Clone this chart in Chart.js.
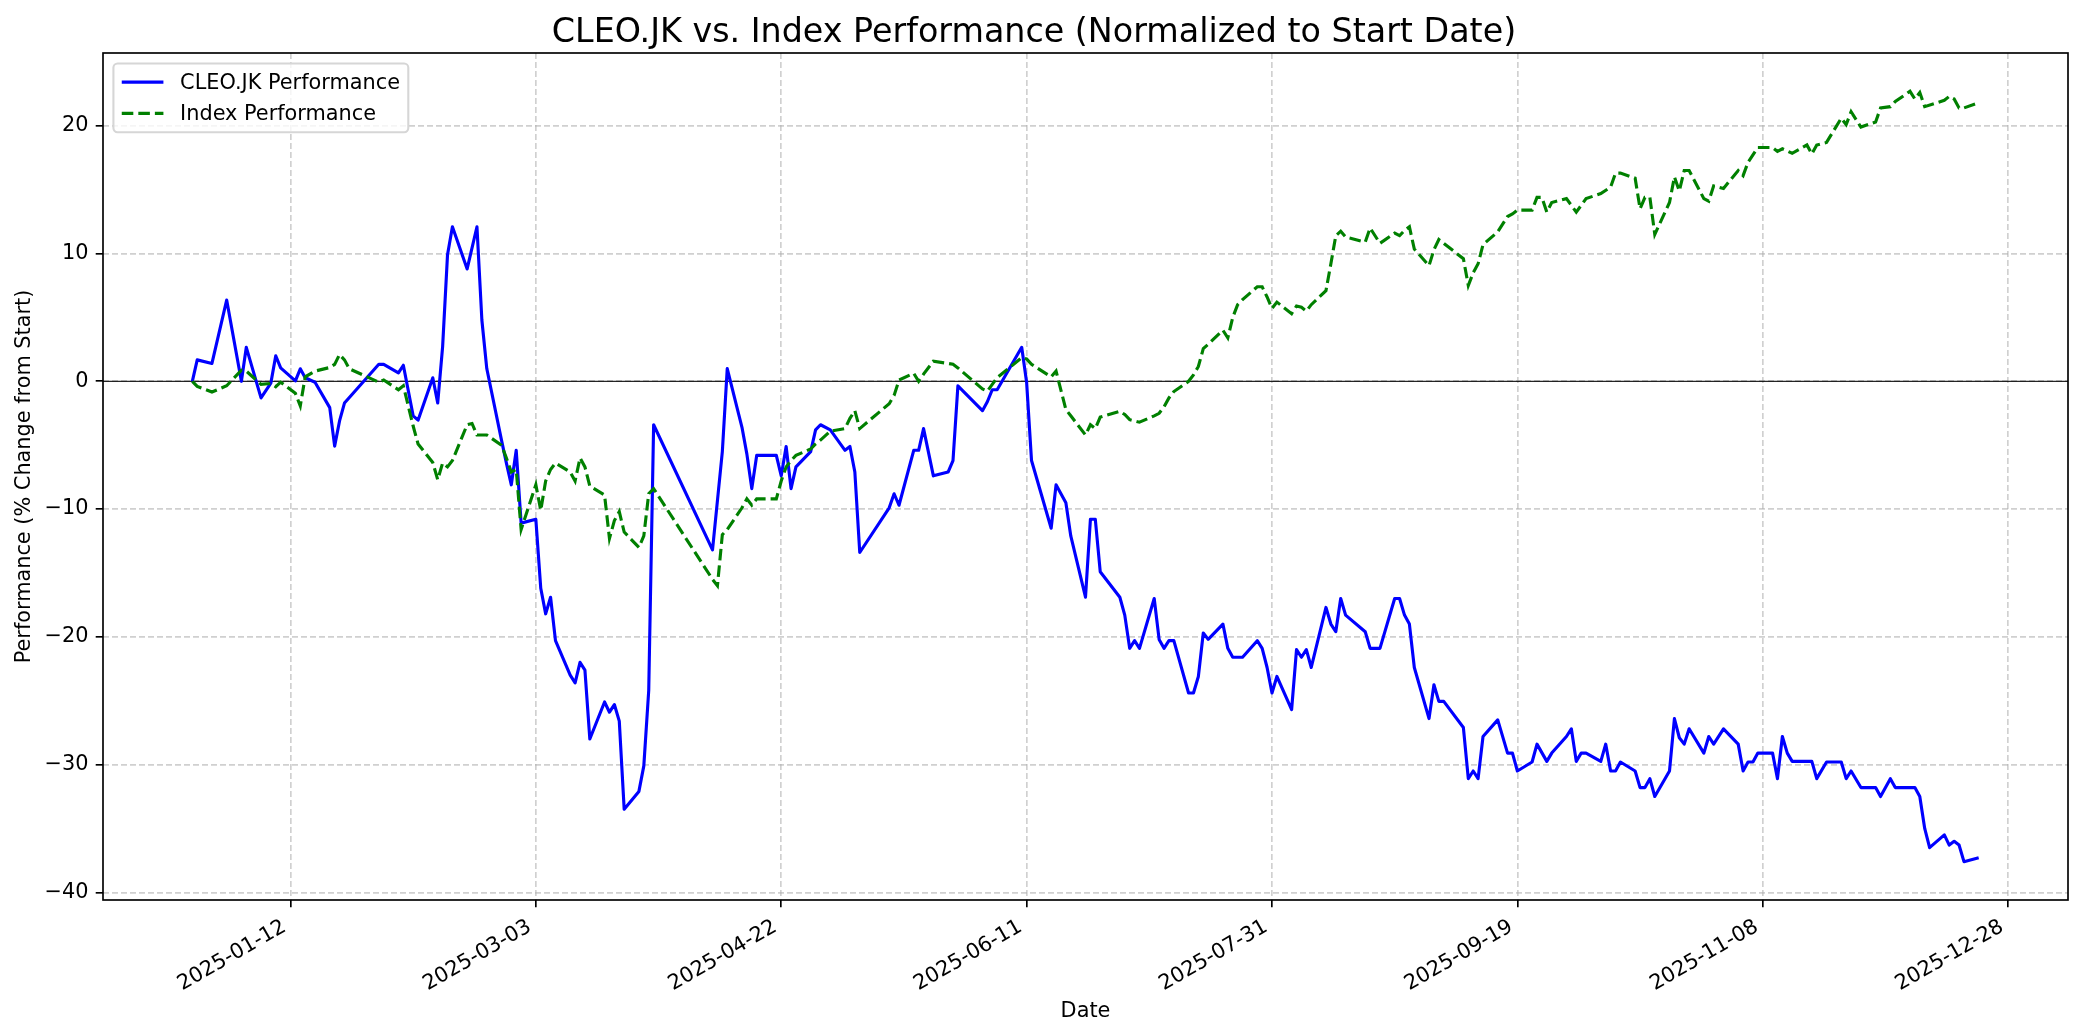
<!DOCTYPE html>
<html>
<head>
<meta charset="utf-8">
<script src="https://cdn.jsdelivr.net/npm/chart.js@4.4.1/dist/chart.umd.min.js"></script>
<style>
  html, body { margin: 0; padding: 0; background: #fff; }
  canvas { display: block; }
</style>
</head>
<body>
<canvas id="chart" width="2084" height="1035"></canvas>
<script>
// x values are trading days counted from startDate
const startDate = '2025-01-01';
const dateTicks = ['2025-01-12', '2025-03-03', '2025-04-22', '2025-06-11', '2025-07-31', '2025-09-19', '2025-11-08', '2025-12-28'];
const yTicks = [-40, -30, -20, -10, 0, 10, 20];

const cleoDays = [-9, -8, -5, -2, 1, 2, 5, 7, 8, 9, 12, 13, 14, 16, 19, 20, 21, 22, 23, 29, 30, 33, 34, 36, 37, 40, 41, 42, 43, 44, 47, 49, 50, 51, 54, 55, 56, 57, 58, 61, 62, 63, 64, 65, 68, 69, 70, 71, 72, 75, 76, 77, 78, 79, 82, 83, 84, 85, 97, 99, 100, 103, 104, 105, 106, 110, 111, 112, 113, 114, 117, 118, 119, 121, 124, 125, 126, 127, 133, 134, 135, 138, 139, 140, 142, 145, 146, 147, 152, 153, 154, 155, 160, 161, 162, 166, 167, 169, 170, 173, 174, 175, 176, 180, 181, 182, 183, 184, 187, 188, 189, 190, 191, 194, 195, 196, 197, 198, 201, 202, 203, 205, 208, 209, 210, 211, 212, 215, 216, 217, 218, 219, 222, 223, 224, 225, 226, 230, 231, 233, 236, 237, 238, 239, 240, 243, 244, 245, 246, 250, 251, 252, 253, 254, 257, 259, 260, 261, 264, 265, 267, 268, 271, 272, 273, 274, 275, 278, 279, 280, 281, 282, 285, 286, 287, 288, 289, 292, 293, 294, 295, 296, 299, 300, 301, 303, 306, 307, 308, 309, 310, 313, 314, 315, 316, 317, 321, 322, 324, 327, 328, 329, 331, 334, 335, 337, 338, 342, 343, 344, 345, 348, 349, 350, 351, 352, 355];
const cleoPerf = [0, 1.68, 1.4, 6.36, 0, 2.66, -1.3, -0.14, 2.0, 1.05, 0.03, 0.98, 0.28, -0.07, -2.06, -5.07, -3.1, -1.7, -1.26, 1.33, 1.33, 0.66, 1.26, -2.7, -3.04, 0.28, -1.7, 2.7, 9.9, 12.1, 8.8, 12.1, 4.8, 1.0, -4.6, -6.4, -8.1, -5.4, -11.1, -10.8, -16.2, -18.2, -16.9, -20.3, -23.0, -23.6, -22.0, -22.6, -28.0, -25.1, -25.9, -25.3, -26.6, -33.5, -32.1, -30.1, -24.2, -3.4, -13.2, -5.5, 1.0, -3.6, -5.7, -8.4, -5.8, -5.8, -7.4, -5.1, -8.4, -6.7, -5.5, -3.8, -3.4, -3.8, -5.4, -5.1, -7.1, -13.4, -9.9, -8.8, -9.7, -5.4, -5.4, -3.7, -7.4, -7.1, -6.2, -0.35, -2.3, -1.6, -0.66, -0.66, 2.66, -0.07, -6.2, -11.5, -8.1, -9.5, -12.1, -16.9, -10.8, -10.8, -14.9, -16.9, -18.3, -20.9, -20.3, -20.9, -17.0, -20.2, -20.9, -20.3, -20.3, -24.4, -24.4, -23.1, -19.7, -20.2, -19.0, -20.9, -21.6, -21.6, -20.3, -20.9, -22.4, -24.4, -23.1, -25.7, -21.0, -21.6, -21.0, -22.4, -17.7, -19.0, -19.6, -17.0, -18.3, -19.6, -20.9, -20.9, -17.0, -17.0, -18.3, -19.0, -22.4, -26.4, -23.75, -25.05, -25.05, -27.1, -31.1, -30.5, -31.1, -27.8, -26.5, -29.1, -29.1, -30.5, -29.8, -28.4, -29.75, -29.1, -27.8, -27.2, -29.75, -29.1, -29.1, -29.75, -28.4, -30.5, -30.5, -29.8, -30.5, -31.8, -31.8, -31.1, -32.5, -30.5, -26.4, -27.9, -28.4, -27.2, -29.1, -27.8, -28.4, -27.2, -28.4, -30.5, -29.8, -29.8, -29.1, -29.1, -31.1, -27.8, -29.1, -29.75, -29.75, -31.1, -29.8, -29.8, -31.1, -30.5, -31.8, -31.8, -32.5, -31.1, -31.8, -31.8, -32.5, -35.0, -36.5, -35.5, -36.3, -36.0, -36.3, -37.6, -37.3];

const indexDays = [-9, -8, -5, -2, 1, 2, 5, 7, 8, 9, 12, 13, 14, 16, 19, 20, 21, 22, 23, 29, 30, 33, 34, 36, 37, 40, 41, 42, 43, 44, 47, 48, 49, 51, 54, 55, 56, 57, 58, 61, 62, 63, 64, 65, 68, 69, 70, 71, 72, 75, 76, 77, 78, 79, 82, 83, 84, 85, 97, 98, 99, 100, 103, 104, 105, 106, 110, 111, 112, 113, 114, 117, 118, 119, 121, 124, 125, 126, 127, 133, 134, 135, 138, 139, 140, 142, 145, 146, 147, 152, 153, 154, 155, 160, 161, 162, 166, 167, 169, 170, 173, 174, 175, 176, 180, 181, 182, 184, 187, 188, 189, 190, 191, 194, 195, 196, 197, 198, 201, 202, 203, 204, 205, 208, 209, 210, 211, 212, 215, 216, 217, 218, 219, 222, 223, 224, 225, 226, 230, 231, 233, 236, 237, 238, 239, 240, 243, 244, 245, 246, 250, 251, 252, 253, 254, 257, 259, 260, 261, 264, 265, 266, 267, 268, 271, 273, 275, 278, 280, 281, 282, 285, 286, 287, 288, 289, 292, 293, 294, 295, 296, 299, 300, 301, 303, 306, 307, 308, 310, 313, 314, 315, 317, 320, 321, 322, 324, 327, 328, 329, 331, 334, 335, 337, 338, 341, 342, 343, 344, 348, 349, 350, 351, 352, 355];
const indexPerf = [0, -0.4, -0.84, -0.35, 0.87, 0.8, -0.24, -0.17, -0.42, -0.07, -0.94, -1.92, 0.35, 0.8, 1.08, 1.33, 2.1, 1.68, 0.98, -0.07, 0.1, -0.66, -0.35, -3.5, -4.9, -6.36, -7.7, -6.4, -6.7, -6.2, -3.4, -3.3, -4.2, -4.2, -5.0, -6.0, -7.1, -6.9, -11.6, -8.1, -10.1, -7.8, -6.9, -6.4, -7.1, -7.8, -6.0, -6.7, -8.2, -8.9, -12.3, -10.9, -10.2, -11.8, -13.0, -12.1, -8.8, -8.4, -15.5, -16.0, -12.0, -11.6, -9.9, -9.2, -9.7, -9.2, -9.2, -7.8, -6.7, -6.2, -5.8, -5.3, -4.9, -4.6, -3.9, -3.7, -2.9, -2.3, -3.7, -1.75, -1.1, 0.1, 0.63, 0, 0.56, 1.57, 1.4, 1.33, 1.05, -0.6, -0.77, -0.24, 0.28, 1.85, 1.75, 1.33, 0.35, 0.8, -2.2, -2.7, -4.2, -3.4, -3.7, -2.8, -2.35, -2.6, -3.0, -3.2, -2.7, -2.5, -2.0, -1.3, -0.8, 0, 0.5, 1.16, 2.56, 2.9, 4.0, 3.4, 5.0, 6.0, 6.4, 7.4, 7.4, 6.6, 5.7, 6.2, 5.3, 5.9, 5.8, 5.5, 6.0, 7.1, 9.2, 11.4, 11.75, 11.3, 10.9, 12.0, 10.8, 11.6, 11.4, 11.8, 12.1, 10.35, 9.05, 10.3, 11.1, 10.8, 9.6, 7.5, 8.5, 9.2, 10.7, 11.7, 12.9, 13.1, 13.4, 13.4, 14.4, 14.4, 13.25, 14.0, 14.3, 13.25, 14.3, 14.7, 15.2, 16.3, 16.3, 15.9, 13.5, 14.4, 14.4, 11.5, 14.0, 16.0, 14.9, 16.5, 16.5, 14.3, 14.1, 15.3, 15.1, 16.5, 16.1, 17.15, 18.3, 18.3, 18.0, 18.2, 17.85, 18.5, 17.8, 18.5, 18.7, 20.6, 20.1, 21.1, 19.9, 20.3, 21.4, 21.5, 21.9, 22.7, 22.1, 22.6, 21.5, 22.0, 22.3, 22.1, 21.4, 21.4, 21.8];

const DAY = 86400000;
const base = Date.parse(startDate);
const tickDays = dateTicks.map(d => (Date.parse(d) - base) / DAY);
const toPoints = (days, vals) => days.map((d, i) => ({ x: d, y: vals[i] }));

const PT = 150 / 72;          // points -> pixels
const FS = 10 * PT;
const GRID = 'rgba(176,176,176,0.6)';

Chart.defaults.font.family = 'DejaVu Sans';
Chart.defaults.font.size = FS;
Chart.defaults.color = '#000';

// zero line, frame and matplotlib-style legend
const mplBits = {
  id: 'mplBits',
  beforeDatasetsDraw(chart) {
    const { ctx, chartArea: a } = chart;
    const y0 = chart.scales.y.getPixelForValue(0);
    ctx.save();
    ctx.strokeStyle = 'rgba(0,0,0,0.85)';
    ctx.lineWidth = 1.3;
    ctx.beginPath();
    ctx.moveTo(a.left, y0);
    ctx.lineTo(a.right, y0);
    ctx.stroke();
    ctx.restore();
  },
  afterDraw(chart) {
    const { ctx, chartArea: a } = chart;
    ctx.save();
    ctx.strokeStyle = '#000';
    ctx.lineWidth = 0.8 * PT;
    ctx.strokeRect(a.left, a.top, a.right - a.left, a.bottom - a.top);

    ctx.font = FS + 'px "DejaVu Sans"';
    const sets = chart.data.datasets;
    const pad = 0.4 * FS, rowH = FS, gap = 0.5 * FS;
    const textW = Math.max(...sets.map(s => ctx.measureText(s.label).width));
    const bx = a.left + 0.5 * FS, by = a.top + 0.5 * FS;
    const bw = pad * 2 + 2 * FS + 0.8 * FS + textW;
    const bh = pad * 2 + rowH * sets.length + gap * (sets.length - 1);
    ctx.beginPath();
    ctx.roundRect(bx, by, bw, bh, 0.2 * FS);
    ctx.fillStyle = 'rgba(255,255,255,0.8)';
    ctx.fill();
    ctx.strokeStyle = '#d6d6d6';
    ctx.lineWidth = 1.0 * PT;
    ctx.stroke();

    sets.forEach((s, i) => {
      const cy = by + pad + rowH / 2 + i * (rowH + gap);
      const hx = bx + pad;
      ctx.beginPath();
      ctx.setLineDash(s.borderDash || []);
      ctx.strokeStyle = s.borderColor;
      ctx.lineWidth = s.borderWidth;
      ctx.moveTo(hx, cy);
      ctx.lineTo(hx + 2 * FS, cy);
      ctx.stroke();
      ctx.setLineDash([]);
      ctx.fillStyle = '#000';
      ctx.textBaseline = 'middle';
      ctx.textAlign = 'left';
      ctx.fillText(s.label, hx + 2.8 * FS, cy + 1);
    });
    ctx.restore();
  }
};

new Chart(document.getElementById('chart'), {
  type: 'line',
  data: {
    datasets: [
      {
        label: 'CLEO.JK Performance',
        data: toPoints(cleoDays, cleoPerf),
        borderColor: 'blue',
        borderWidth: 1.5 * PT,
        pointRadius: 0,
        borderJoinStyle: 'round',
        fill: false,
        order: 1,
      },
      {
        label: 'Index Performance',
        data: toPoints(indexDays, indexPerf),
        borderColor: 'green',
        borderWidth: 1.5 * PT,
        borderDash: [3.7 * 1.5 * PT, 1.6 * 1.5 * PT],
        pointRadius: 0,
        fill: false,
        order: 0,
      },
    ],
  },
  options: {
    responsive: false,
    animation: false,
    devicePixelRatio: 1,
    events: [],
    layout: { padding: { left: 0, right: 16, top: 0, bottom: 0 } },
    plugins: {
      legend: { display: false },
      tooltip: { enabled: false },
      title: {
        display: true,
        text: 'CLEO.JK vs. Index Performance (Normalized to Start Date)',
        font: { size: 16 * PT, weight: 'normal' },
        color: '#000',
        padding: { top: 13, bottom: 0 },
      },
    },
    scales: {
      x: {
        type: 'linear',
        min: -27.2,
        max: 373.2,
        afterBuildTicks: (s) => { s.ticks = tickDays.map(v => ({ value: v })); },
        afterFit: (s) => { s.height = 135; },
        grid: { color: GRID, lineWidth: 0.8 * PT, tickLength: 3.5 * PT, tickWidth: 0.8 * PT, tickColor: '#000' },
        border: { display: false, dash: [6, 3] },
        ticks: {
          autoSkip: false,
          minRotation: 30,
          maxRotation: 30,
          padding: 3.5 * PT,
          labelOffset: -6,
          callback: (v, i) => dateTicks[i],
        },
        title: { display: true, text: 'Date', padding: { top: 0, bottom: 11 } },
      },
      y: {
        min: -40.6,
        max: 25.7,
        afterBuildTicks: (s) => { s.ticks = yTicks.map(v => ({ value: v })); },
        afterFit: (s) => { s.width = 103; },
        grid: { color: GRID, lineWidth: 0.8 * PT, tickLength: 3.5 * PT, tickWidth: 0.8 * PT, tickColor: '#000' },
        border: { display: false, dash: [6, 3] },
        ticks: {
          padding: 3.5 * PT,
          callback: (v) => String(v).replace('-', '\u2212'),
        },
        title: { display: true, text: 'Performance (% Change from Start)', padding: { top: 12, bottom: 0 } },
      },
    },
  },
  plugins: [mplBits],
});
</script>
</body>
</html>
